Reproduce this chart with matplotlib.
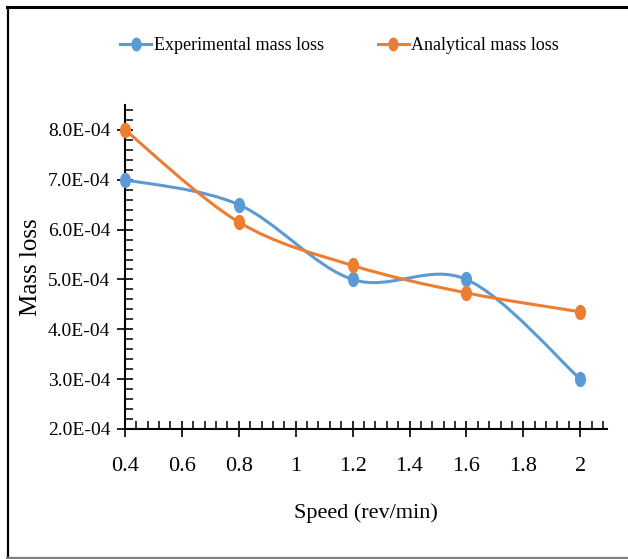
import numpy as np
import matplotlib
matplotlib.use('Agg')
import matplotlib.pyplot as plt
from matplotlib.path import Path
from matplotlib.patches import PathPatch, Arc
from matplotlib.lines import Line2D
from matplotlib.ticker import MultipleLocator, FuncFormatter

plt.rcParams['font.family'] = ['Liberation Serif', 'DejaVu Serif']

# data
speed = [0.4, 0.8, 1.2, 1.6, 2.0]
experimental = [7.0e-4, 6.5e-4, 5.0e-4, 5.0e-4, 3.0e-4]
analytical = [8.0e-4, 6.15e-4, 5.28e-4, 4.73e-4, 4.35e-4]
x_ticks = [0.4, 0.6, 0.8, 1.0, 1.2, 1.4, 1.6, 1.8, 2.0]
y_ticks = [2e-4, 3e-4, 4e-4, 5e-4, 6e-4, 7e-4, 8e-4]

blue = '#5B9BD5'
orange = '#ED7D31'


def smooth_path(x, y):
    # Excel style smoothed line: cubic bezier through the points
    pts = np.column_stack([x, y])
    n = len(pts)
    verts = [pts[0]]
    codes = [Path.MOVETO]
    for i in range(n - 1):
        p0 = pts[i - 1] if i > 0 else pts[i]
        p1, p2 = pts[i], pts[i + 1]
        p3 = pts[i + 2] if i + 2 < n else pts[i + 1]
        c1 = p1 + (p2 - p0) / 6
        c2 = p2 - (p3 - p1) / 6
        verts += [c1, c2, p2]
        codes += [Path.CURVE4] * 3
    return Path(verts, codes)


# tall ellipse marker (the picture is squeezed sideways)
circ = Path.unit_circle()
ell = Path(circ.vertices * [0.7, 1.0], circ.codes)

fig = plt.figure(figsize=(6.28, 5.59), dpi=100)

# outer frame drawn in pixel coordinates
bg = fig.add_axes([0, 0, 1, 1], zorder=-1)
bg.set_xlim(0, 628)
bg.set_ylim(559, 0)
bg.axis('off')
bg.plot([8, 8], [7, 557], color='black', lw=1.6)
bg.plot([7, 628], [7, 7], color='black', lw=2.2)
bg.plot([7, 628], [557.5, 557.5], color='#7f7f7f', lw=1.6)
bg.add_patch(Arc((66, -30), 74, 66, theta1=200, theta2=340, color='#7a9ea8', lw=1.5))

ax = fig.add_axes([0.199, 0.2326, 0.768, 0.5796])

for vals, col in [(experimental, blue), (analytical, orange)]:
    ax.add_patch(PathPatch(smooth_path(speed, vals), facecolor='none',
                           edgecolor=col, lw=2.2, capstyle='round', zorder=3))
    ax.plot(speed, vals, linestyle='none', marker=ell, markersize=10,
            color=col, zorder=4, clip_on=False)

ax.set_xlim(0.4, 2.095)
ax.set_ylim(2e-4, 8.5e-4)
ax.set_xticks(x_ticks)
ax.set_yticks(y_ticks)
ax.xaxis.set_major_formatter(FuncFormatter(lambda v, p: f'{v:g}'))
ax.yaxis.set_major_formatter(FuncFormatter(lambda v, p: f'{v:.1E}'))
ax.xaxis.set_minor_locator(MultipleLocator(0.04))
ax.yaxis.set_minor_locator(MultipleLocator(2e-5))

for s in ['top', 'right']:
    ax.spines[s].set_visible(False)
for s in ['left', 'bottom']:
    ax.spines[s].set_linewidth(1.5)

ax.tick_params(axis='both', which='major', direction='inout', length=11,
               width=1.2)
ax.tick_params(axis='x', which='major', pad=15, labelsize=16)
ax.tick_params(axis='y', which='major', pad=5, labelsize=14)
ax.tick_params(axis='both', which='minor', direction='in', length=5.5, width=1.1)

ax.set_xlabel('Speed (rev/min)', fontsize=16, labelpad=19)
ax.set_ylabel('Mass loss', fontsize=18)
ax.yaxis.set_label_coords(-0.172, 0.5)

handles = [Line2D([], [], color=blue, lw=2.2, marker=ell, markersize=9),
           Line2D([], [], color=orange, lw=2.2, marker=ell, markersize=9)]
fig.legend(handles, ['Experimental mass loss', 'Analytical mass loss'],
           loc='center', bbox_to_anchor=(0.541, 0.918), ncol=2, frameon=False,
           fontsize=13, handlelength=1.7, handletextpad=0.15, columnspacing=3.0)

fig.savefig('out.png', dpi=100)
